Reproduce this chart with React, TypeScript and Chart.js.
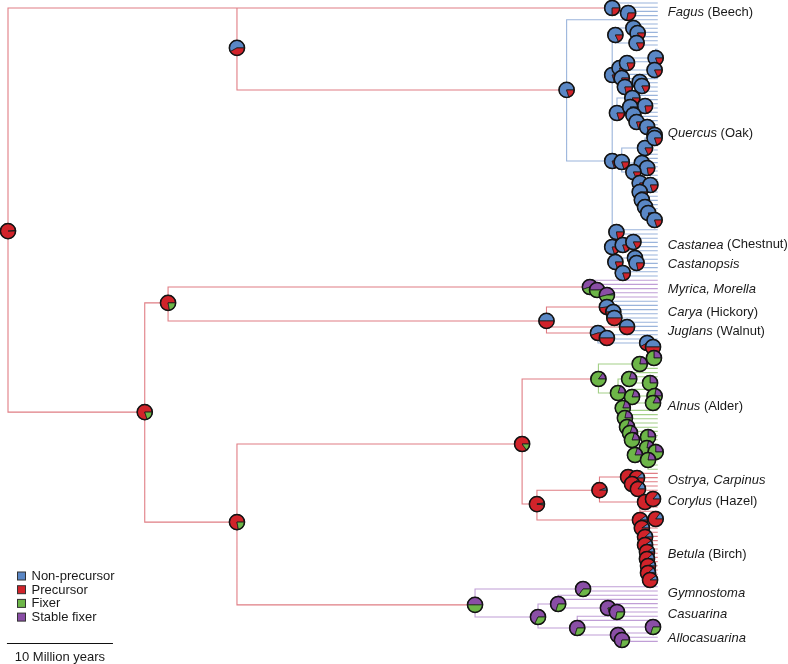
import React, { useEffect, useRef } from "react";
import { Chart, registerables } from "chart.js";

Chart.register(...registerables);

// ---------- states / colours ----------
const STATE_NAMES = ["Non-precursor", "Precursor", "Fixer", "Stable fixer"];
const STATE_FILL = ["#5a87c5", "#d1232a", "#6db648", "#8a4ea6"];
// pie slice order: non-precursor, precursor, stable fixer, fixer (drawn anticlockwise from east)
const SLICE_FILL = ["#5a87c5", "#d1232a", "#8a4ea6", "#6db648"];
const BRANCH_COLORS: Record<string, string> = { r: "#e07d84", b: "#9ab4db", g: "#a3d087", p: "#c09ed6" };

// ---------- tree data ----------
// x = age in million years from the root, y = tip rank
const TIP_AGE = 61.3;
const SCALE_BAR_START = -0.1;
const SCALE_BAR_MY = 10;

// [id, parent, age (My), rank, pNonPrecursor, pPrecursor, pStableFixer, pFixer, branch colour]
const BACKBONE_NODES: any[] = [
  ["root", null, 0, 54.3, 0.015, 0.985, 0, 0, "r"],
  ["A", "root", 21.6, 10.7, 0.58, 0.42, 0, 0, "r"],
  ["B", "root", 12.9, 97.4, 0, 0.8, 0, 0.2, "r"],
  ["C", "B", 15.1, 71.4, 0, 0.78, 0, 0.22, "r"],
  ["D", "B", 21.6, 123.6, 0, 0.78, 0, 0.22, "r"],
  ["E", "D", 48.5, 105.0, 0, 0.85, 0, 0.15, "r"],
  ["G", "E", 49.9, 119.3, 0.03, 0.95, 0, 0.02, "r"],
  ["H", "G", 55.8, 116.0, 0.06, 0.94, 0, 0, "r"],
];
const STEM_RANK: Record<string, number> = { A: 1.19 };

const FAGACEAE_NODES: any[] = [
  ["F1", "A", 57.0, 1.19, 0.75, 0.25, 0, 0, "r"],
  ["F2", "F1", 58.5, 2.38, 0.72, 0.28, 0, 0, "b"],
  ["Q0", "A", 52.7, 20.7, 0.8, 0.2, 0, 0, "r"],
  ["Q1", "Q0", 57.0, 37.62, 0.8, 0.2, 0, 0, "b"],
  ["QA", "Q1", 57.3, 7.62, 0.82, 0.18, 0, 0, "b"],
  ["QA1", "QA", 59.0, 5.95, 0.78, 0.22, 0, 0, "b"],
  ["QA1a", "QA1", 59.4, 7.14, 0.8, 0.2, 0, 0, "b"],
  ["QA2", "QA", 59.3, 9.52, 0.82, 0.18, 0, 0, "b"],
  ["QM0", "Q1", 57.0, 17.14, 0.8, 0.2, 0, 0, "b"],
  ["QM1", "QM0", 57.7, 15.48, 0.78, 0.22, 0, 0, "b"],
  ["QM2", "QM1", 58.4, 14.29, 0.8, 0.2, 0, 0, "b"],
  ["QM2a", "QM2", 61.1, 13.1, 0.8, 0.2, 0, 0, "b"],
  ["QM2b", "QM2", 61.0, 15.95, 0.82, 0.18, 0, 0, "b"],
  ["QM3", "QM1", 57.9, 17.86, 0.8, 0.2, 0, 0, "b"],
  ["QM4", "QM1", 58.2, 20.0, 0.78, 0.22, 0, 0, "b"],
  ["QM4a", "QM4", 59.6, 18.81, 0.8, 0.2, 0, 0, "b"],
  ["QM4b", "QM4", 59.8, 19.76, 0.82, 0.18, 0, 0, "b"],
  ["QM5", "QM0", 57.45, 26.19, 0.8, 0.2, 0, 0, "b"],
  ["QM6", "QM5", 58.9, 22.62, 0.8, 0.2, 0, 0, "b"],
  ["QM6a", "QM6", 60.1, 24.52, 0.78, 0.22, 0, 0, "b"],
  ["QM6b", "QM5", 58.7, 24.76, 0.82, 0.18, 0, 0, "b"],
  ["QM7", "QM5", 59.0, 26.67, 0.8, 0.2, 0, 0, "b"],
  ["QM8", "QM7", 59.3, 28.33, 0.8, 0.2, 0, 0, "b"],
  ["QM9", "QM8", 60.3, 29.52, 0.78, 0.22, 0, 0, "b"],
  ["QM10", "QM9", 61.0, 31.43, 0.8, 0.2, 0, 0, "b"],
  ["QB", "Q1", 57.9, 37.86, 0.8, 0.2, 0, 0, "b"],
  ["QB1", "QB", 60.1, 34.52, 0.82, 0.18, 0, 0, "b"],
  ["QB1a", "QB1", 61.0, 32.14, 0.8, 0.2, 0, 0, "b"],
  ["QB2", "QB", 59.8, 38.1, 0.8, 0.2, 0, 0, "b"],
  ["QB2a", "QB2", 60.3, 39.29, 0.78, 0.22, 0, 0, "b"],
  ["QB3", "QB", 59.0, 40.24, 0.82, 0.18, 0, 0, "b"],
  ["QB4", "QB3", 59.6, 42.86, 0.8, 0.2, 0, 0, "b"],
  ["QB4a", "QB4", 60.6, 43.33, 0.8, 0.2, 0, 0, "b"],
  ["QB5", "QB3", 59.6, 45.0, 0.82, 0.18, 0, 0, "b"],
  ["QB6", "QB5", 59.8, 46.9, 0.8, 0.2, 0, 0, "b"],
  ["QB7", "QB6", 60.1, 48.57, 0.8, 0.2, 0, 0, "b"],
  ["QB8", "QB7", 60.4, 50.0, 0.82, 0.18, 0, 0, "b"],
  ["QB9", "QB8", 61.0, 51.67, 0.8, 0.2, 0, 0, "b"],
  ["QC", "Q1", 57.0, 58.1, 0.8, 0.2, 0, 0, "b"],
  ["QC0", "QC", 57.4, 54.52, 0.78, 0.22, 0, 0, "b"],
  ["QC1", "QC", 58.0, 57.62, 0.8, 0.2, 0, 0, "b"],
  ["QC1a", "QC1", 59.0, 56.9, 0.82, 0.18, 0, 0, "b"],
  ["QC2", "QC", 57.3, 61.67, 0.8, 0.2, 0, 0, "b"],
  ["QC3", "QC2", 59.15, 60.71, 0.8, 0.2, 0, 0, "b"],
  ["QC3a", "QC3", 59.3, 61.9, 0.78, 0.22, 0, 0, "b"],
  ["QC4", "QC2", 58.0, 64.29, 0.8, 0.2, 0, 0, "b"],
];

const MYRICA_NODES: any[] = [
  ["Myr", "C", 54.9, 67.62, 0, 0, 0.55, 0.45, "r"],
  ["Myr1", "Myr", 55.57, 68.33, 0, 0, 0.5, 0.5, "p"],
  ["Myr2", "Myr1", 56.5, 69.52, 0.04, 0, 0.5, 0.46, "p"],
];

const JUGLANDACEAE_NODES: any[] = [
  ["Jug", "C", 50.8, 75.7, 0.5, 0.5, 0, 0, "r"],
  ["Jc", "Jug", 56.5, 72.38, 0.52, 0.48, 0, 0, "r"],
  ["Jc1", "Jc", 57.1, 73.57, 0.5, 0.5, 0, 0, "b"],
  ["Jc2", "Jc", 57.2, 75.0, 0.5, 0.5, 0, 0, "b"],
  ["Jk", "Jug", 58.4, 77.14, 0.5, 0.5, 0, 0, "r"],
  ["Jl", "Jug", 55.66, 78.57, 0.55, 0.45, 0, 0, "r"],
  ["Jl1", "Jl", 56.5, 79.76, 0.5, 0.5, 0, 0, "b"],
  ["Jl2", "Jl", 60.3, 80.95, 0.58, 0.42, 0, 0, "b"],
  ["Jl3", "Jl2", 60.85, 81.9, 0.5, 0.5, 0, 0, "b"],
];

const ALNUS_NODES: any[] = [
  ["Al", "E", 55.7, 89.52, 0, 0, 0.15, 0.85, "r"],
  ["Al1", "Al", 59.6, 85.95, 0, 0, 0.22, 0.78, "g"],
  ["Al1a", "Al1", 60.94, 84.52, 0, 0, 0.25, 0.75, "g"],
  ["Al2", "Al", 57.55, 92.86, 0, 0, 0.2, 0.8, "g"],
  ["Al3", "Al2", 58.6, 89.52, 0, 0, 0.2, 0.8, "g"],
  ["Al3a", "Al3", 60.57, 90.48, 0, 0, 0.25, 0.75, "g"],
  ["Al4", "Al2", 58.87, 93.81, 0, 0, 0.2, 0.8, "g"],
  ["Al4a", "Al4", 61.0, 93.57, 0, 0, 0.22, 0.78, "g"],
  ["Al4b", "Al4", 60.85, 95.24, 0, 0, 0.18, 0.82, "g"],
  ["Al5", "Al2", 58.0, 96.43, 0, 0, 0.2, 0.8, "g"],
  ["Al6", "Al5", 58.2, 98.81, 0, 0, 0.22, 0.78, "g"],
  ["Al7", "Al6", 58.4, 100.95, 0, 0, 0.2, 0.8, "g"],
  ["Al8", "Al7", 58.68, 102.38, 0, 0, 0.2, 0.8, "g"],
  ["Al8a", "Al8", 60.38, 103.33, 0, 0, 0.25, 0.75, "g"],
  ["Al9", "Al8", 58.87, 104.05, 0, 0, 0.2, 0.8, "g"],
  ["Al9a", "Al9", 60.28, 105.95, 0, 0, 0.22, 0.78, "g"],
  ["Al9b", "Al9a", 61.1, 106.9, 0, 0, 0.25, 0.75, "g"],
  ["Al10", "Al9", 59.15, 107.62, 0, 0, 0.2, 0.8, "g"],
  ["Al10a", "Al10", 60.38, 108.81, 0, 0, 0.22, 0.78, "g"],
];

const CORYLOIDEAE_NODES: any[] = [
  ["Os", "H", 58.5, 112.86, 0.1, 0.9, 0, 0, "r"],
  ["Os1", "Os", 59.34, 113.1, 0.12, 0.88, 0, 0, "r"],
  ["Os2", "Os", 58.87, 114.52, 0.1, 0.9, 0, 0, "r"],
  ["Os3", "Os2", 59.43, 115.71, 0.15, 0.85, 0, 0, "r"],
  ["Co", "H", 60.1, 118.81, 0.1, 0.9, 0, 0, "r"],
  ["Co1", "Co", 60.85, 118.1, 0.14, 0.86, 0, 0, "r"],
];

const BETULA_NODES: any[] = [
  ["Be", "G", 59.62, 123.1, 0.1, 0.9, 0, 0, "r"],
  ["Be1", "Be", 61.1, 122.86, 0.15, 0.85, 0, 0, "r"],
  ["Be2", "Be", 59.8, 125.0, 0.1, 0.9, 0, 0, "r"],
  ["Be3", "Be2", 60.1, 127.14, 0.12, 0.88, 0, 0, "r"],
  ["Be4", "Be3", 60.1, 129.05, 0.1, 0.9, 0, 0, "r"],
  ["Be5", "Be4", 60.28, 130.71, 0.1, 0.9, 0, 0, "r"],
  ["Be6", "Be5", 60.28, 132.38, 0.12, 0.88, 0, 0, "r"],
  ["Be7", "Be6", 60.38, 134.05, 0.1, 0.9, 0, 0, "r"],
  ["Be8", "Be7", 60.38, 135.71, 0.12, 0.88, 0, 0, "r"],
  ["Be9", "Be8", 60.57, 137.38, 0.1, 0.9, 0, 0, "r"],
];

const CASUARINACEAE_NODES: any[] = [
  ["Ca", "D", 44.06, 143.3, 0, 0, 0.5, 0.5, "r"],
  ["Gy", "Ca", 54.25, 139.52, 0, 0, 0.65, 0.35, "p"],
  ["Cs", "Ca", 50.0, 146.19, 0, 0, 0.68, 0.32, "p"],
  ["Cu", "Cs", 51.9, 143.1, 0, 0, 0.7, 0.3, "p"],
  ["Cu1", "Cu", 56.6, 144.05, 0, 0, 0.8, 0.2, "p"],
  ["Cu2", "Cu1", 57.45, 145.0, 0, 0, 0.72, 0.28, "p"],
  ["Ac", "Cs", 53.7, 148.81, 0, 0, 0.7, 0.3, "p"],
  ["Ac2", "Ac", 60.85, 148.57, 0, 0, 0.7, 0.3, "p"],
  ["Ac1", "Ac", 57.55, 150.48, 0, 0, 0.8, 0.2, "p"],
  ["Ac3", "Ac1", 57.92, 151.67, 0, 0, 0.72, 0.28, "p"],
];

// tips, in top-to-bottom order: [parent node, number of tips, branch colour]
const FAGACEAE_TIPS: any[] = [
  ["F1", 1, "b"], ["F2", 3, "b"], ["Q0", 1, "b"], ["QA1", 1, "b"], ["QA1a", 2, "b"], ["QA2", 3, "b"],
  ["QM2a", 3, "b"], ["QM2", 1, "b"], ["QM2b", 2, "b"], ["QM3", 2, "b"], ["QM4a", 1, "b"], ["QM4b", 2, "b"],
  ["QM6", 2, "b"], ["QM6a", 2, "b"], ["QM6b", 1, "b"], ["QM8", 2, "b"], ["QM9", 2, "b"], ["QM10", 2, "b"],
  ["QB1a", 2, "b"], ["QB1", 2, "b"], ["QB2", 2, "b"], ["QB2a", 2, "b"], ["QB4", 2, "b"], ["QB4a", 2, "b"],
  ["QB5", 1, "b"], ["QB6", 2, "b"], ["QB7", 2, "b"], ["QB8", 2, "b"], ["QB9", 2, "b"],
  ["QC0", 2, "b"], ["QC1a", 2, "b"], ["QC1", 2, "b"], ["QC3", 1, "b"], ["QC3a", 2, "b"], ["QC4", 3, "b"],
];
const MYRICA_TIPS: any[] = [["Myr", 2, "p"], ["Myr1", 1, "p"], ["Myr2", 2, "p"]];
const JUGLANDACEAE_TIPS: any[] = [
  ["Jc", 2, "b"], ["Jc1", 2, "b"], ["Jc2", 2, "b"], ["Jk", 2, "b"], ["Jl1", 2, "b"], ["Jl2", 1, "b"], ["Jl3", 1, "b"],
];
const ALNUS_TIPS: any[] = [
  ["Al1a", 2, "g"], ["Al1", 3, "g"], ["Al3", 2, "g"], ["Al3a", 2, "g"], ["Al4", 1, "g"], ["Al4a", 2, "g"],
  ["Al4b", 2, "g"], ["Al5", 2, "g"], ["Al6", 2, "g"], ["Al7", 1, "g"], ["Al8", 1, "g"], ["Al8a", 2, "g"],
  ["Al9", 1, "g"], ["Al9a", 1, "g"], ["Al9b", 2, "g"], ["Al10", 1, "g"], ["Al10a", 2, "g"],
];
const CORYLOIDEAE_TIPS: any[] = [
  ["Os", 1, "r"], ["Os1", 1, "r"], ["Os2", 1, "r"], ["Os3", 2, "r"], ["Co1", 2, "r"], ["Co", 1, "r"],
];
const BETULA_TIPS: any[] = [
  ["Be", 2, "r"], ["Be1", 2, "r"], ["Be2", 2, "r"], ["Be3", 2, "r"], ["Be4", 2, "r"],
  ["Be5", 2, "r"], ["Be6", 2, "r"], ["Be7", 2, "r"], ["Be8", 1, "r"], ["Be9", 2, "r"],
];
const CASUARINACEAE_TIPS: any[] = [
  ["Gy", 2, "p"], ["Cu", 2, "p"], ["Cu1", 1, "p"], ["Cu2", 2, "p"],
  ["Ac", 2, "p"], ["Ac2", 2, "p"], ["Ac1", 1, "p"], ["Ac3", 2, "p"],
];

// clade labels: [italic part, plain part, rank]
const CLADE_LABELS: any[] = [
  ["Fagus", " (Beech)", 2.14],
  ["Quercus", " (Oak)", 30.95],
  ["Castanea", " (Chestnut)", 57.6],
  ["Castanopsis", "", 62.3],
  ["Myrica, Morella", "", 68.1],
  ["Carya", " (Hickory)", 73.6],
  ["Juglans", " (Walnut)", 78.3],
  ["Alnus", " (Alder)", 96.0],
  ["Ostrya, Carpinus", "", 113.6],
  ["Corylus", " (Hazel)", 118.6],
  ["Betula", " (Birch)", 131.2],
  ["Gymnostoma", "", 140.5],
  ["Casuarina", "", 145.5],
  ["Allocasuarina", "", 151.2],
];
const LABEL_OFFSET_MY = 0.95;
const SCALE_BAR_TEXT = "10 Million years";

const ALL_NODES = [
  ...BACKBONE_NODES, ...FAGACEAE_NODES, ...MYRICA_NODES, ...JUGLANDACEAE_NODES,
  ...ALNUS_NODES, ...CORYLOIDEAE_NODES, ...BETULA_NODES, ...CASUARINACEAE_NODES,
];
const ALL_TIPS = [
  ...FAGACEAE_TIPS, ...MYRICA_TIPS, ...JUGLANDACEAE_TIPS, ...ALNUS_TIPS,
  ...CORYLOIDEAE_TIPS, ...BETULA_TIPS, ...CASUARINACEAE_TIPS,
];

function buildBranches() {
  const byId = new Map<string, any>(ALL_NODES.map((n) => [n[0], n]));
  const segs: Record<string, any[]> = { r: [], b: [], g: [], p: [] };
  const push = (c: string, x0: number, y0: number, x1: number, y1: number) => {
    segs[c].push({ x: x0, y: y0 }, { x: x0, y: y1 }, { x: x1, y: y1 }, { x: null, y: null });
  };
  for (const n of ALL_NODES) {
    if (!n[1]) continue;
    const p = byId.get(n[1]);
    const stem = STEM_RANK[n[0]] !== undefined ? STEM_RANK[n[0]] : n[3];
    push(n[8], p[2], p[3], n[2], stem);
  }
  let rank = 0;
  for (const [pid, count, c] of ALL_TIPS) {
    const p = byId.get(pid);
    for (let i = 0; i < count; i++) {
      push(c, p[2], p[3], TIP_AGE, rank);
      rank++;
    }
  }
  return segs;
}

const FONT = "'Liberation Sans', Arial, Helvetica, sans-serif";
const PIE_R = 7.6;

const treePlugin = {
  id: "treeDecor",
  afterDatasetsDraw(chart: any) {
    const { ctx } = chart;
    const xs = chart.scales.x;
    const ys = chart.scales.y;
    ctx.save();
    // pies
    for (const n of ALL_NODES) {
      const cx = xs.getPixelForValue(n[2]);
      const cy = ys.getPixelForValue(n[3]);
      const fr = [n[4], n[5], n[6], n[7]];
      let start = 0;
      for (let i = 0; i < 4; i++) {
        const f = fr[i];
        if (f <= 0) continue;
        const a0 = start * Math.PI * 2;
        const a1 = (start + f) * Math.PI * 2;
        ctx.beginPath();
        ctx.moveTo(cx, cy);
        ctx.arc(cx, cy, PIE_R, -a0, -a1, true);
        ctx.closePath();
        ctx.fillStyle = SLICE_FILL[i];
        ctx.fill();
        ctx.lineWidth = 0.8;
        ctx.strokeStyle = "#1c1c1c";
        ctx.stroke();
        start += f;
      }
      ctx.beginPath();
      ctx.arc(cx, cy, PIE_R, 0, Math.PI * 2);
      ctx.lineWidth = 1.5;
      ctx.strokeStyle = "#141414";
      ctx.stroke();
    }
    // clade labels
    ctx.fillStyle = "#1a1a1a";
    ctx.textBaseline = "middle";
    ctx.textAlign = "left";
    for (const [it, plain, r] of CLADE_LABELS) {
      const x = xs.getPixelForValue(TIP_AGE + LABEL_OFFSET_MY);
      const y = ys.getPixelForValue(r);
      ctx.font = `italic 13px ${FONT}`;
      ctx.fillText(it, x, y);
      const w = ctx.measureText(it).width;
      if (plain) {
        ctx.font = `13px ${FONT}`;
        ctx.fillText(plain, x + w, y);
      }
    }
    // legend
    const legendTop = 572;
    const rowH = 13.7;
    ctx.font = `13px ${FONT}`;
    for (let i = 0; i < STATE_NAMES.length; i++) {
      const y = legendTop + i * rowH;
      ctx.fillStyle = STATE_FILL[i];
      ctx.fillRect(17.5, y, 8, 8);
      ctx.lineWidth = 1;
      ctx.strokeStyle = "#333";
      ctx.strokeRect(17.5, y, 8, 8);
      ctx.fillStyle = "#1a1a1a";
      ctx.fillText(STATE_NAMES[i], 31.5, y + 4.5);
    }
    // scale bar
    const x0 = xs.getPixelForValue(SCALE_BAR_START);
    const x1 = xs.getPixelForValue(SCALE_BAR_START + SCALE_BAR_MY);
    ctx.beginPath();
    ctx.moveTo(x0, 643.5);
    ctx.lineTo(x1, 643.5);
    ctx.lineWidth = 1.2;
    ctx.strokeStyle = "#111";
    ctx.stroke();
    ctx.textAlign = "center";
    ctx.fillStyle = "#1a1a1a";
    ctx.fillText(SCALE_BAR_TEXT, (x0 + x1) / 2, 657);
    ctx.restore();
  },
};

export default function App() {
  const ref = useRef<HTMLCanvasElement | null>(null);
  useEffect(() => {
    document.body.style.margin = "0";
    const segs = buildBranches();
    const order = ["r", "b", "g", "p"];
    const chart = new Chart(ref.current as HTMLCanvasElement, {
      type: "scatter",
      data: {
        datasets: order.map((c) => ({
          data: segs[c],
          showLine: true,
          borderColor: BRANCH_COLORS[c],
          backgroundColor: BRANCH_COLORS[c],
          borderWidth: 1.1,
          pointRadius: 0,
          pointHoverRadius: 0,
          tension: 0,
          spanGaps: false,
          fill: false,
          borderCapStyle: "butt",
          borderJoinStyle: "miter",
        })),
      },
      options: {
        responsive: false,
        animation: false,
        events: [],
        layout: { padding: 0 },
        plugins: { legend: { display: false }, tooltip: { enabled: false } },
        scales: {
          x: { type: "linear", min: -0.755, max: 73.585, display: false },
          y: { type: "linear", min: -0.714, max: 157.38, reverse: true, display: false },
        },
      },
      plugins: [treePlugin],
    } as any);
    return () => chart.destroy();
  }, []);
  return (
    <div style={{ width: 788, height: 664, background: "#fff" }}>
      <canvas ref={ref} width={788} height={664} style={{ display: "block" }} />
    </div>
  );
}
